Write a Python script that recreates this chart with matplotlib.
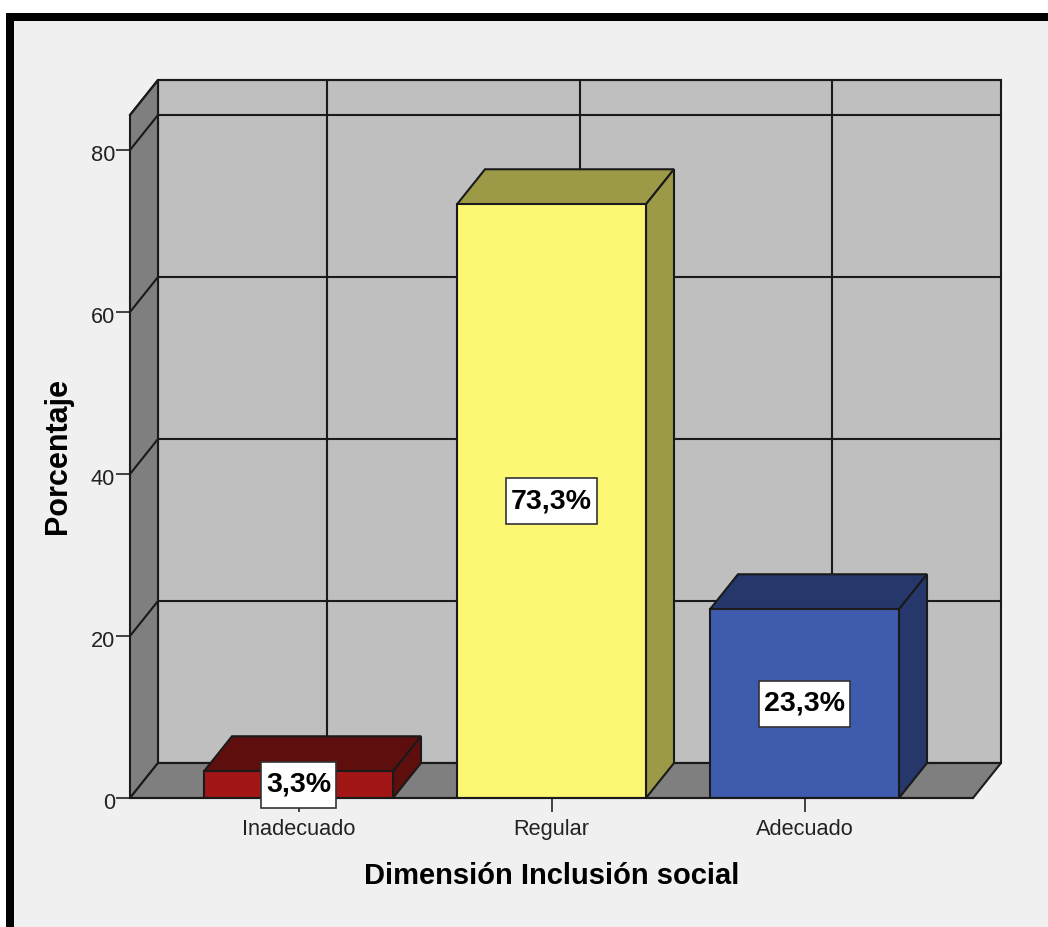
import matplotlib
matplotlib.use("Agg")
import matplotlib.pyplot as plt
from matplotlib.patches import Polygon, Rectangle
from matplotlib.path import Path
from matplotlib.transforms import ScaledTranslation

plt.rcParams["font.family"] = ["Liberation Sans", "DejaVu Sans"]

categories = ["Inadecuado", "Regular", "Adecuado"]
values = [3.3, 73.3, 23.3]
labels = ["3,3%", "73,3%", "23,3%"]
yticks = [0, 20, 40, 60, 80]

front_colors = ["#a31616", "#fdf873", "#3e5bad"]
dark_colors = ["#5f0e0e", "#9c9a46", "#25376b"]

W, H = 1048, 927
LINE = "#1a1a1a"

fig = plt.figure(figsize=(W / 100, H / 100), dpi=100, facecolor="white")

# grey panel with the thick black edge on the left and top only
fig.patches.append(Rectangle((6 / W, 0), 1 - 6 / W, 1 - 13 / H, transform=fig.transFigure,
                             fc="black", ec="none", zorder=-2))
fig.patches.append(Rectangle((14 / W, 0), 1 - 14 / W, 1 - 21 / H, transform=fig.transFigure,
                             fc="#f0f0f0", ec="none", zorder=-1))

# axes box holds the front plane plus the depth offset
ax = fig.add_axes([130 / W, 1 - 798 / H, 871 / W, 718 / H])
ax.patch.set_visible(False)
for s in ax.spines.values():
    s.set_visible(False)

px_x = 253.0   # pixels per category
px_y = 8.1     # pixels per percent
ax.set_xlim(1 + (130 - 551.5) / px_x, 1 + (1001 - 551.5) / px_x)
ax.set_ylim(0, 718 / px_y)

dx = 28 / px_x
dy = 35 / px_y
x0, x1 = ax.get_xlim()
x1 = x1 - dx
top = ax.get_ylim()[1] - dy
lw = 1.5


def poly(pts, fc, z):
    ax.add_patch(Polygon(pts, closed=True, fc=fc, ec=LINE, lw=lw, zorder=z, clip_on=False))


# label box is taller than the text, square pad is not enough
def label_box(x, y, w, h, mutation_size):
    l, b, r, t = x - 5, y - 10, x + w + 5, y + h + 10
    return Path([(l, b), (r, b), (r, t), (l, t), (l, b)], closed=True)


# walls and floor
poly([(x0 + dx, dy), (x1 + dx, dy), (x1 + dx, top + dy), (x0 + dx, top + dy)], "#bfbfbf", 1)
poly([(x0, 0), (x0 + dx, dy), (x0 + dx, top + dy), (x0, top)], "#7f7f7f", 1)
poly([(x0, 0), (x1, 0), (x1 + dx, dy), (x0 + dx, dy)], "#7f7f7f", 1)

# gridlines on back and side wall
for v in yticks[1:] + [top]:
    ax.plot([x0, x0 + dx, x1 + dx], [v, v + dy, v + dy], color=LINE, lw=lw, zorder=2, clip_on=False)
for i in range(len(categories)):
    ax.plot([i + dx, i + dx], [dy, top + dy], color=LINE, lw=lw, zorder=2)
ax.plot([x0 + dx, x1 + dx], [dy, dy], color=LINE, lw=lw, zorder=2)

# bars
width = 189 / px_x
ax.bar(range(len(values)), values, width=width, color=front_colors, edgecolor=LINE,
       linewidth=lw, zorder=4)
for i, v in enumerate(values):
    l, r = i - width / 2, i + width / 2
    poly([(l, v), (r, v), (r + dx, v + dy), (l + dx, v + dy)], dark_colors[i], 3)
    poly([(r, 0), (r + dx, dy), (r + dx, v + dy), (r, v)], dark_colors[i], 3)
    ax.text(i, v / 2, labels[i], ha="center", va="center", fontsize=20.5, fontweight="bold",
            color="black", zorder=6,
            bbox=dict(boxstyle=label_box, fc="white", ec="#333333", lw=1.2))

ax.plot([x0, x1], [0, 0], color=LINE, lw=lw, zorder=5, clip_on=False)

ax.set_xticks(range(len(categories)), categories)
ax.set_yticks(yticks)
ax.tick_params(axis="both", length=10, width=1.3, color="#333333", labelcolor="#222222",
               labelsize=15.7)
ax.tick_params(axis="x", pad=5)
ax.tick_params(axis="y", pad=0.7)
# y tick labels sit a little under their ticks in the original
for t in ax.get_yticklabels():
    t.set_transform(t.get_transform() + ScaledTranslation(0, -3 / 100, fig.dpi_scale_trans))

ax.set_xlabel("Dimensión Inclusión social", fontsize=21, fontweight="bold", va="center")
ax.xaxis.set_label_coords((552 - 130) / 871, (798 - 876) / 718)
ax.set_ylabel("Porcentaje", fontsize=22, fontweight="bold", va="center")
ax.yaxis.set_label_coords((58 - 130) / 871, (798 - 456) / 718)

fig.savefig("out.png", dpi=100, facecolor=fig.get_facecolor())
